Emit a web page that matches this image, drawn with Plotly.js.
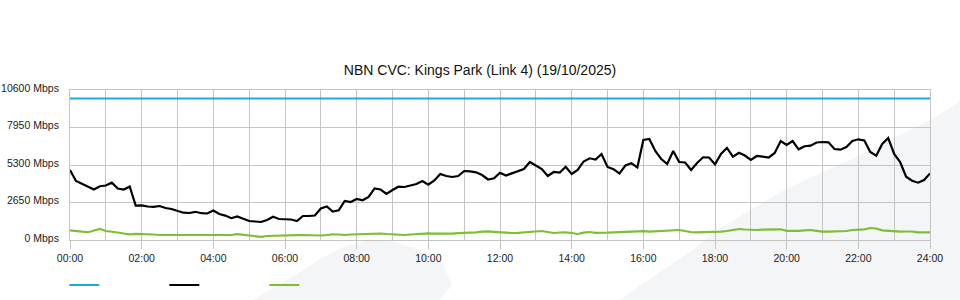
<!DOCTYPE html>
<html><head><meta charset="utf-8">
<script src="https://cdn.plot.ly/plotly-3.0.1.min.js"></script>
<style>html,body{margin:0;padding:0;background:#fff}#chart{width:960px;height:300px}</style>
</head><body><div id="chart"></div>
<script>
const chartTitle = 'NBN CVC: Kings Park (Link 4) (19/10/2025)';
const xTickVals = [0, 2, 4, 6, 8, 10, 12, 14, 16, 18, 20, 22, 24];
const xTickText = ['00:00', '02:00', '04:00', '06:00', '08:00', '10:00', '12:00', '14:00', '16:00', '18:00', '20:00', '22:00', '24:00'];
const yTickVals = [0, 2650, 5300, 7950, 10600];
const yTickText = ['0 Mbps', '2650 Mbps', '5300 Mbps', '7950 Mbps', '10600 Mbps'];
const sampleMinutes = 10;
const capacityTimes = [0, 24];
const capacityMbps = [10000, 10000];
const downloadMbps = [
  4947, 4170, 3979, 3745, 3569, 3800, 3850, 4050, 3640, 3569, 3781, 2438, 2452, 2367, 2346, 2403, 2261, 2191, 2085, 1929, 1908, 1993, 1894, 1873, 2080,
  1837, 1724, 1541, 1661, 1512, 1343, 1307, 1272, 1413, 1640, 1484, 1463, 1449, 1343, 1696, 1696, 1731, 2226, 2367, 2014, 2099, 2756, 2685, 2897,
  2805, 3039, 3640, 3569, 3251, 3533, 3767, 3745, 3851, 3958, 4170, 3908, 4205, 4664, 4523, 4452, 4523, 4876, 4855, 4784, 4593, 4275, 4360, 4749,
  4558, 4721, 4841, 5017, 5512, 5265, 5017, 4523, 4805, 4770, 5173, 4664, 4947, 5548, 5774, 5689, 6077, 5159, 5003, 4700, 5265, 5420, 5124, 7067,
  7137, 6290, 5725, 5370, 6290, 5512, 5477, 4947, 5442, 5844, 5830, 5349, 6077, 6501, 5886, 6168, 5971, 5653, 5936, 5886, 5830, 6148, 6996, 6713,
  6996, 6408, 6628, 6670, 6890, 6925, 6904, 6430, 6381, 6572, 6996, 7116, 7031, 6218, 5956, 6784, 7208, 6077, 5512, 4473, 4191, 4050, 4240, 4700
];
const uploadMbps = [
  686, 622, 587, 551, 671, 777, 636, 601, 530, 459, 403, 438, 424, 445, 389, 353, 353, 353, 318, 332, 353, 332, 304, 339, 353,
  318, 353, 353, 410, 367, 304, 269, 226, 283, 304, 318, 318, 332, 339, 353, 332, 318, 318, 353, 403, 389, 353, 389, 410,
  389, 424, 459, 459, 424, 403, 375, 353, 389, 424, 445, 473, 445, 438, 445, 452, 481, 495, 516, 544, 594, 615, 580, 544,
  530, 495, 509, 544, 565, 587, 636, 565, 495, 530, 544, 495, 424, 516, 565, 509, 495, 516, 544, 565, 565, 565, 580, 622,
  587, 615, 636, 664, 693, 707, 636, 551, 544, 544, 551, 565, 587, 636, 707, 777, 742, 707, 707, 735, 756, 756, 756, 650,
  636, 650, 686, 707, 650, 587, 587, 587, 587, 636, 707, 721, 756, 848, 813, 686, 636, 615, 587, 601, 601, 544, 544, 544
];
const times = downloadMbps.map((_, i) => i * sampleMinutes / 60);

// plot area in pixels: x 70..930, y 90..240 (used only for the background watermark)
const fx = px => (px - 70) / 860;
const fy = py => (240 - py) / 150;
function pathFrom(points) {
  return 'M' + points.map(p => fx(p[0]).toFixed(4) + ',' + fy(p[1]).toFixed(4)).join(' L') + ' Z';
}
const wmLeft = [[253,300],[300,272],[320,259],[345,246],[370,240],[395,242],[420,250],[442,262],[452,285],[440,300]];
const wmRight = [[620,300],[660,272],[690,252],[720,228],[786,189],[860,155],[930,120],[960,102],[960,300]];

const traces = [
  {x: capacityTimes, y: capacityMbps, name: '', type: 'scatter', mode: 'lines',
   line: {color: '#22a6df', width: 2}, hovertemplate: '%{y} Mbps<extra></extra>'},
  {x: times, y: downloadMbps, name: '', type: 'scatter', mode: 'lines',
   line: {color: '#000000', width: 2.2}, hovertemplate: '%{y} Mbps<extra></extra>'},
  {x: times, y: uploadMbps, name: '', type: 'scatter', mode: 'lines',
   line: {color: '#7dbf33', width: 2.2}, hovertemplate: '%{y} Mbps<extra></extra>'}
];

const gridColor = '#c4c4c4';
const layout = {
  width: 960, height: 300,
  margin: {l: 70, r: 30, t: 90, b: 60, pad: 0},
  paper_bgcolor: '#ffffff',
  plot_bgcolor: 'rgba(0,0,0,0)',
  font: {family: 'Liberation Sans, Arial, sans-serif', size: 10.5, color: '#222'},
  title: {text: chartTitle, font: {size: 14, color: '#111'}, x: 0.5, xanchor: 'center', y: 0.765, yanchor: 'middle'},
  showlegend: true,
  legend: {orientation: 'h', xref: 'container', yref: 'container',
           x: 0.067, xanchor: 'left', y: 0.05, yanchor: 'middle',
           entrywidth: 55, entrywidthmode: 'pixels', itemwidth: 30, bgcolor: 'rgba(0,0,0,0)',
           font: {size: 10.5}},
  xaxis: {range: [0, 24], tickmode: 'array', tickvals: xTickVals, ticktext: xTickText,
          showgrid: true, gridcolor: gridColor, gridwidth: 1,
          minor: {dtick: 1, tick0: 0, showgrid: true, gridcolor: gridColor, gridwidth: 1, ticks: ''},
          ticks: 'outside', ticklen: 8, tickcolor: gridColor, tickwidth: 1,
          showline: true, linecolor: gridColor, linewidth: 1, mirror: true,
          zeroline: false, fixedrange: true, tickfont: {size: 10.5, color: '#222'}},
  yaxis: {range: [0, 10600], tickmode: 'array', tickvals: yTickVals, ticktext: yTickText,
          showgrid: true, gridcolor: gridColor, gridwidth: 1,
          ticks: '', ticklabelstandoff: 8, ticklabelshift: -2,
          showline: true, linecolor: gridColor, linewidth: 1, mirror: true,
          zeroline: false, fixedrange: true, tickfont: {size: 10.5, color: '#222'}},
  shapes: [
    {type: 'path', xref: 'paper', yref: 'paper', path: pathFrom(wmLeft), fillcolor: '#f4f5f7', line: {width: 0}, layer: 'below'},
    {type: 'path', xref: 'paper', yref: 'paper', path: pathFrom(wmRight), fillcolor: '#f4f5f7', line: {width: 0}, layer: 'below'}
  ]
};

Plotly.newPlot('chart', traces, layout, {displayModeBar: false, staticPlot: false});
</script>
</body></html>
